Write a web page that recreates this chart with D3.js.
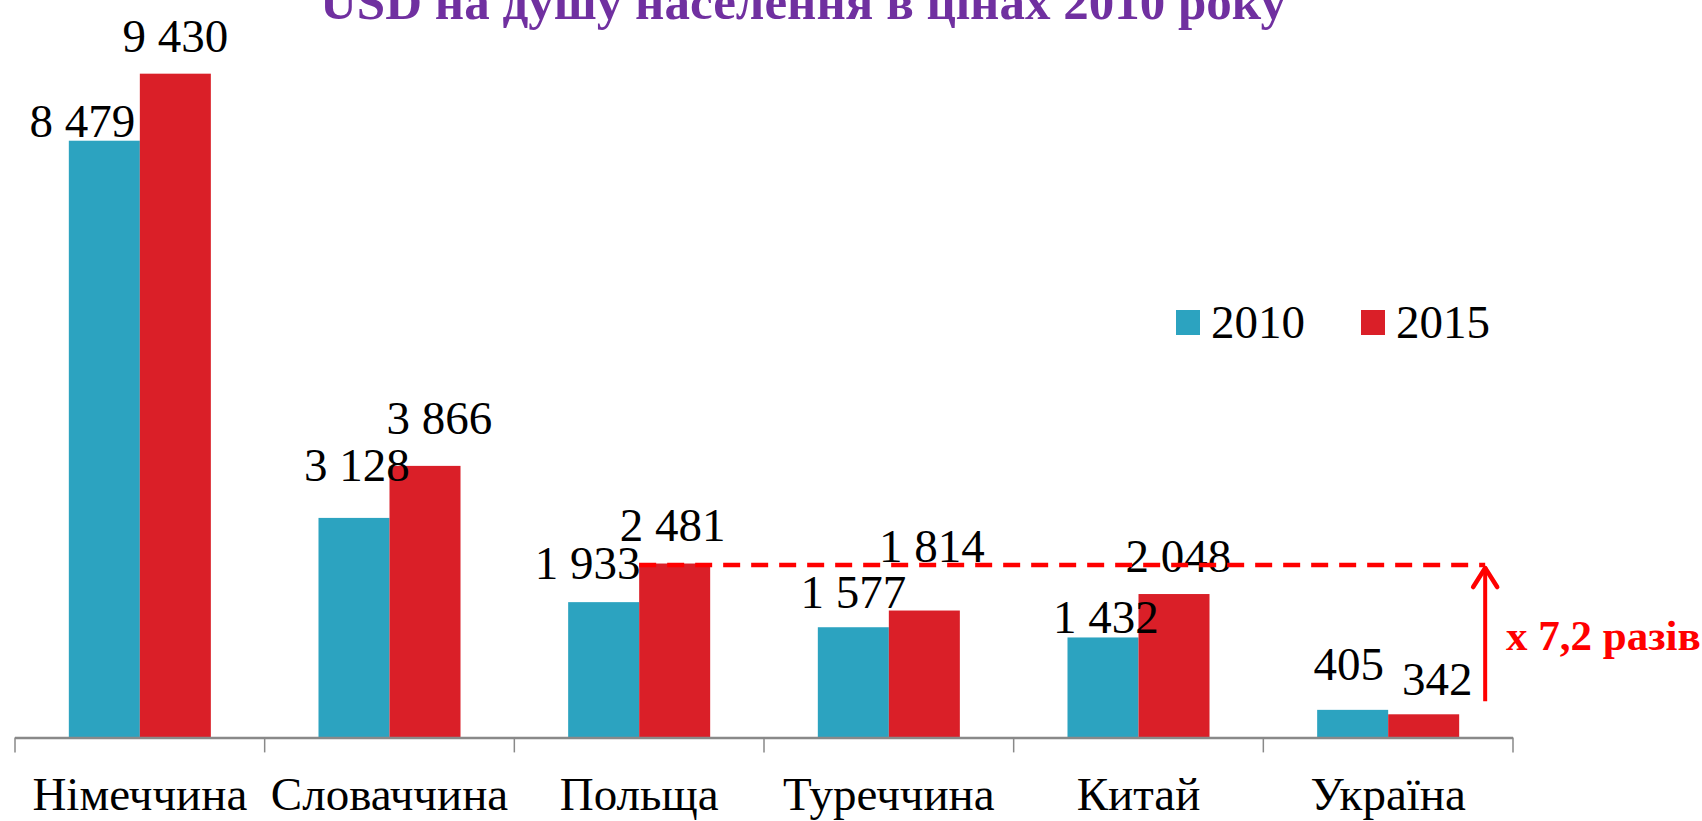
<!DOCTYPE html>
<html>
<head>
<meta charset="utf-8">
<script src="https://cdn.jsdelivr.net/npm/d3@7"></script>
<style>
  html, body { margin: 0; padding: 0; background: #fff; overflow: hidden; }
  svg text { font-family: "Liberation Serif", "Times New Roman", serif; }
</style>
</head>
<body>
<svg id="chart" width="1702" height="821"></svg>
<script>
// ---- data ----
const categories = ["Німеччина", "Словаччина", "Польща", "Туреччина", "Китай", "Україна"];
const seriesNames = ["2010", "2015"];
const values2010 = [8479, 3128, 1933, 1577, 1432, 405];
const values2015 = [9430, 3866, 2481, 1814, 2048, 342];
const valueLabels2010 = ["8 479", "3 128", "1 933", "1 577", "1 432", "405"];
const valueLabels2015 = ["9 430", "3 866", "2 481", "1 814", "2 048", "342"];
const titleText = "USD на душу населення в цінах 2010 року";
const annotationText = "x 7,2 разів";

// ---- layout (label nudges, not data) ----
const nudge2010 = [[-22,-4],[3,-37],[-16,-23],[0,-19],[3,-4.5],[-4,-30]];
const nudge2015 = [[0,-22],[14.5,-32],[-2,-22.5],[7.6,-48.5],[4.4,-22],[13.6,-19]];

const colors = { "2010": "#2CA3C0", "2015": "#DA1F28" };

const svg = d3.select("#chart");

const x0 = d3.scaleBand().domain(categories).range([15, 1513]).paddingInner(0).paddingOuter(0);
const x1 = d3.scaleBand().domain(seriesNames).range([0, x0.bandwidth()]).paddingInner(0).paddingOuter(0.758);
const y = d3.scaleLinear().domain([0, 10000]).range([738.4, 33.5]);

const rows = categories.map((c, i) => ({
  cat: c,
  vals: [
    { s: "2010", v: values2010[i], label: valueLabels2010[i], nd: nudge2010[i] },
    { s: "2015", v: values2015[i], label: valueLabels2015[i], nd: nudge2015[i] }
  ]
}));

// title (partially clipped at top, as in reference)
svg.append("text")
  .attr("x", 803).attr("y", 19)
  .attr("text-anchor", "middle")
  .attr("font-size", 51).attr("font-weight", "bold")
  .attr("fill", "#7030A0")
  .text(titleText);

// bars
const g = svg.append("g");
const groups = g.selectAll("g.cat").data(rows).join("g")
  .attr("transform", d => `translate(${x0(d.cat)},0)`);

groups.selectAll("rect").data(d => d.vals).join("rect")
  .attr("x", d => x1(d.s))
  .attr("width", x1.bandwidth())
  .attr("y", d => y(d.v))
  .attr("height", d => y(0) - y(d.v))
  .attr("fill", d => colors[d.s]);

groups.selectAll("text.val").data(d => d.vals).join("text")
  .attr("class", "val")
  .attr("x", d => x1(d.s) + x1.bandwidth() / 2 + d.nd[0])
  .attr("y", d => y(d.v) + d.nd[1])
  .attr("text-anchor", "middle")
  .attr("font-size", 47)
  .attr("fill", "#000")
  .text(d => d.label);

// axis
const axis = d3.axisBottom(x0).tickSize(0).tickPadding(0);
const ax = svg.append("g").attr("transform", `translate(0,${y(0)})`).call(axis);
ax.attr("font-family", null);
ax.select(".domain").remove();
ax.selectAll("text")
  .attr("font-size", 47)
  .attr("fill", "#000")
  .attr("dy", null)
  .attr("y", 72);
svg.append("line")
  .attr("x1", x0.range()[0]).attr("x2", x0.range()[1])
  .attr("y1", y(0) - 0.5).attr("y2", y(0) - 0.5)
  .attr("stroke", "#898989").attr("stroke-width", 2.5);
const bounds = categories.map(c => x0(c)).concat([x0.range()[1]]);
svg.selectAll("line.btick").data(bounds).join("line")
  .attr("class", "btick")
  .attr("x1", d => d).attr("x2", d => d)
  .attr("y1", y(0) - 1).attr("y2", y(0) + 14)
  .attr("stroke", "#898989").attr("stroke-width", 1.5);

// legend
const legX = [1176, 1361];
const leg = svg.selectAll("g.leg").data(seriesNames).join("g").attr("class", "leg")
  .attr("transform", (d, i) => `translate(${legX[i]},310)`);
leg.append("rect").attr("width", 24).attr("height", 25).attr("fill", d => colors[d]);
leg.append("text").attr("x", 35).attr("y", 28).attr("font-size", 47).attr("fill", "#000").text(d => d);

// dashed reference line + arrow
const polandRedX = x0("Польща") + x1("2015");
const ukrRight = x0("Україна") + x1("2015") + x1.bandwidth();
const arrowX = ukrRight + 26;
const refY = y(values2015[2]) + 1.5;
svg.append("line")
  .attr("x1", polandRedX).attr("x2", arrowX)
  .attr("y1", refY).attr("y2", refY)
  .attr("stroke", "#FF0000").attr("stroke-width", 4.5)
  .attr("stroke-dasharray", "17,11");
const arrowBottom = y(values2015[5]) - 13;
svg.append("line")
  .attr("x1", arrowX).attr("x2", arrowX)
  .attr("y1", arrowBottom).attr("y2", refY + 2)
  .attr("stroke", "#FF0000").attr("stroke-width", 4);
svg.append("path")
  .attr("d", `M${arrowX - 12},${refY + 22} L${arrowX},${refY + 3} L${arrowX + 12},${refY + 22}`)
  .attr("fill", "none").attr("stroke", "#FF0000").attr("stroke-width", 4.5)
  .attr("stroke-linecap", "round").attr("stroke-linejoin", "round");
svg.append("text")
  .attr("x", 1506).attr("y", 650)
  .attr("font-size", 43).attr("font-weight", "bold")
  .attr("fill", "#FF0000")
  .text(annotationText);
</script>
</body>
</html>
